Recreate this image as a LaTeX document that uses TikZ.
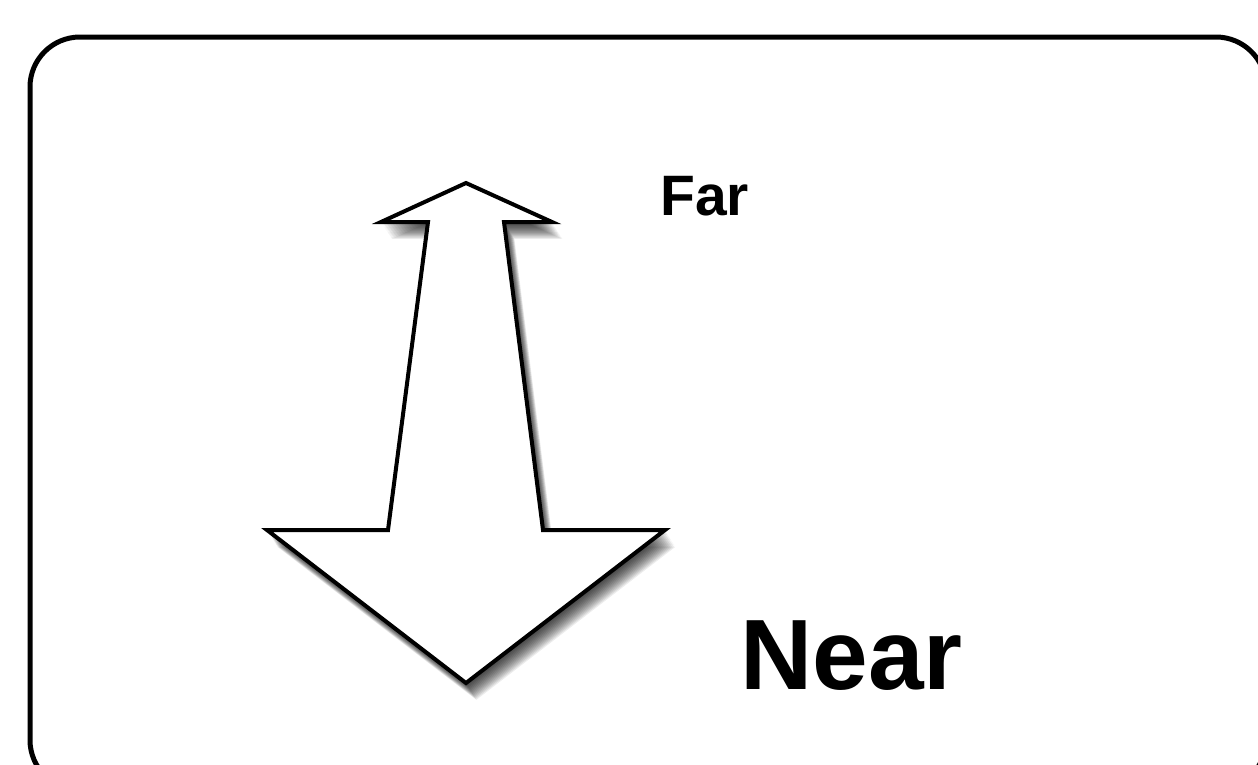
\documentclass[tikz,border=0pt]{standalone}
\usepackage{fontspec}
\setmainfont{Liberation Sans}
\tikzset{
  frame/.style={line width=5pt, rounded corners=50pt},
  arrowshape/.style={draw=black, fill=white, line width=4pt, line join=miter, miter limit=10},
  shadowlayer/.style={fill=black, opacity=0.075},
  labelsmall/.style={font=\fontsize{57}{60}\selectfont\bfseries, inner sep=0pt, anchor=base west},
  labelbig/.style={font=\fontsize{100}{110}\selectfont\bfseries, inner sep=0pt, anchor=base west}
}
\begin{document}
\begin{tikzpicture}[x=1pt,y=-1pt]
\useasboundingbox (0,0) rectangle (1258,764);
\clip (0,0) rectangle (1258,764);
\fill[white] (0,0) rectangle (1258,764);
\draw[frame] (30,37) rectangle (1266,790);
\foreach \i in {1,...,16}{
  \begin{scope}[shift={(0.65*\i,1.05*\i)}]
    \fill[shadowlayer] (466,183) -- (552,222) -- (504,222) -- (543,530) -- (665,530) -- (466,683) -- (267,530) -- (388,530) -- (428,222) -- (381,222) -- cycle;
  \end{scope}
}
\draw[arrowshape] (466,183) -- (552,222) -- (504,222) -- (543,530) -- (665,530) -- (466,683) -- (267,530) -- (388,530) -- (428,222) -- (381,222) -- cycle;
\node[labelsmall] (far) at (660,215) {Far};
\node[labelbig] (near) at (740,689) {Near};
\end{tikzpicture}
\end{document}
